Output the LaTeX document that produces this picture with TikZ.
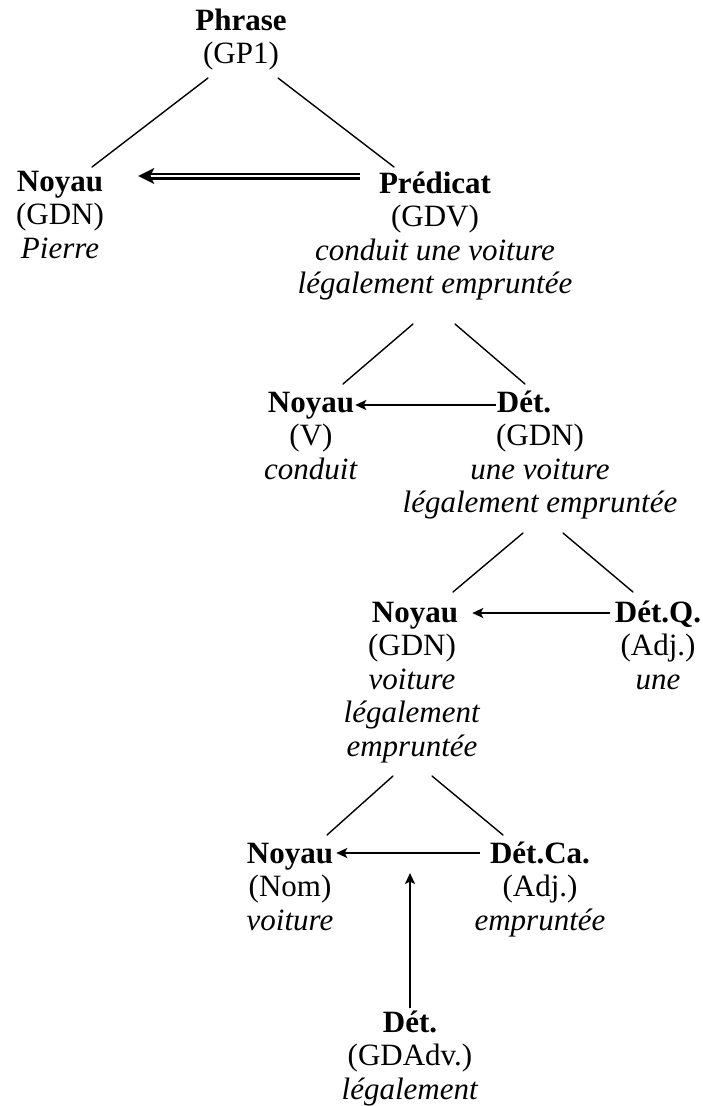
\documentclass[tikz,border=0pt]{standalone}
\usepackage{fontspec}
\setmainfont{Liberation Serif}
\usetikzlibrary{arrows.meta,calc}

\newcommand\treefont{\fontsize{31}{33.5}\selectfont}
\newcommand\stack[1]{\begin{tabular}[t]{@{}c@{}}#1\end{tabular}}

\tikzset{
  head/.style={font=\treefont\bfseries, inner sep=0pt, anchor=base},
  body/.style={font=\treefont, inner sep=0pt, anchor=base},
  branch/.style={line width=1.4pt, line cap=round},
  link/.style={line width=2.4pt, -{Stealth[length=11pt,width=10pt,inset=2.5pt]}},
  dline/.style={double, line width=2.2pt, double distance=2.6pt, shorten >=10pt},
  dhead/.style={line width=0.1pt, -{Stealth[length=16pt,width=16pt,inset=4pt]}}
}

\begin{document}
\begin{tikzpicture}[x=1pt,y=-1pt]
  \useasboundingbox (0,0) rectangle (703,1106);

  % sentence
  \node[head] (phr) at (241,30) {Phrase};
  \node[body] (phr-b) at (241,63.5) {\stack{(GP1)}};

  % first level
  \node[head] (nl) at (60,191) {Noyau};
  \node[body] (nl-b) at (60,224.5) {\stack{(GDN)\\ \textit{Pierre}}};
  \node[head] (pred) at (435,193) {Prédicat};
  \node[body] (pred-b) at (435,226.5)
    {\stack{(GDV)\\ \textit{conduit une voiture}\\ \textit{légalement empruntée}}};

  % predicate
  \node[head] (nv) at (311,412) {Noyau};
  \node[body] (nv-b) at (311,445.5) {\stack{(V)\\ \textit{conduit}}};
  \node[head] (dv) at (524,412) {Dét.};
  \node[body] (dv-b) at (540,445.5)
    {\stack{(GDN)\\ \textit{une voiture}\\ \textit{légalement empruntée}}};

  % noun group
  \node[head] (ng) at (415,622) {Noyau};
  \node[body] (ng-b) at (412,655.5)
    {\stack{(GDN)\\ \textit{voiture}\\ \textit{légalement}\\ \textit{empruntée}}};
  \node[head] (dq) at (658,622) {Dét.Q.};
  \node[body] (dq-b) at (658,655.5) {\stack{(Adj.)\\ \textit{une}}};

  % noun and adjective
  \node[head] (nn) at (290,863) {Noyau};
  \node[body] (nn-b) at (290,896.5) {\stack{(Nom)\\ \textit{voiture}}};
  \node[head] (dc) at (540,863) {Dét.Ca.};
  \node[body] (dc-b) at (540,896.5) {\stack{(Adj.)\\ \textit{empruntée}}};

  % adverb
  \node[head] (da) at (410,1032) {Dét.};
  \node[body] (da-b) at (410,1065.5) {\stack{(GDAdv.)\\ \textit{légalement}}};

  % branch end points
  \coordinate (phr-l) at (208,78);  \coordinate (nl-t) at (92,167);
  \coordinate (phr-r) at (278,78);  \coordinate (pred-t) at (394,167);
  \coordinate (pred-l) at (413,324); \coordinate (nv-t) at (343,384);
  \coordinate (pred-r) at (455,324); \coordinate (dv-t) at (525,384);
  \coordinate (dv-l) at (523,533);  \coordinate (ng-t) at (453,592);
  \coordinate (dv-r) at (563,533);  \coordinate (dq-t) at (633,592);
  \coordinate (ng-l) at (393,776);  \coordinate (nn-t) at (327,835);
  \coordinate (ng-r) at (432,776);  \coordinate (dc-t) at (503,835);
  \coordinate (adv-tip) at (410,873);

  % tree branches
  \draw[branch] (phr-l) -- (nl-t);
  \draw[branch] (phr-r) -- (pred-t);
  \draw[branch] (pred-l) -- (nv-t);
  \draw[branch] (pred-r) -- (dv-t);
  \draw[branch] (dv-l) -- (ng-t);
  \draw[branch] (dv-r) -- (dq-t);
  \draw[branch] (ng-l) -- (nn-t);
  \draw[branch] (ng-r) -- (dc-t);

  % double arrow: predicate to subject
  \coordinate (dtail) at ([xshift=-19pt,yshift=17pt]pred.base west);
  \coordinate (dtip) at ($(nl.east |- dtail)+(35,0)$);
  \draw[dline] (dtail) -- (dtip);
  \draw[dhead] ($(dtip)+(12,0)$) -- (dtip);

  % dependency arrows
  \draw[link] ([xshift=-1pt,yshift=7pt]dv.base west)
           -- ([xshift=1pt,yshift=7pt]dv.base west -| nv.east);
  \draw[link] ([xshift=-5pt,yshift=9pt]dq.base west)
           -- ([xshift=14pt,yshift=9pt]dq.base west -| ng.east);
  \draw[link] ([xshift=-10pt,yshift=10pt]dc.base west)
           -- ([xshift=3pt,yshift=10pt]dc.base west -| nn.east);
  \draw[link] ([yshift=2pt]da.north) -- (adv-tip);
\end{tikzpicture}
\end{document}
